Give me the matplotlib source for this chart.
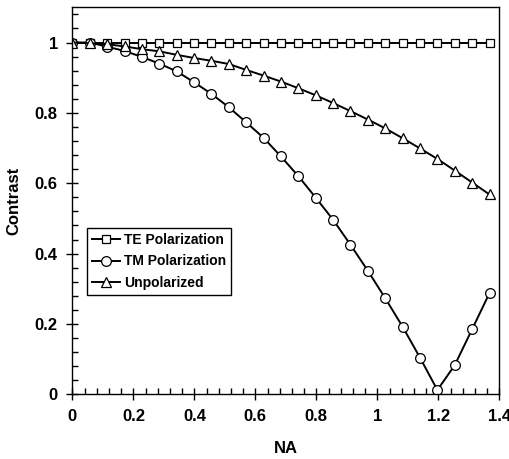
from matplotlib import pyplot as plt
from matplotlib.ticker import MultipleLocator, FormatStrFormatter

na_step = 0.057
na = [i * na_step for i in range(25)]

te_contrast = [1.0] * 25
tm_contrast = [
    1.0, 1.0, 0.988, 0.976, 0.959, 0.940, 0.918, 0.887, 0.854, 0.816, 0.773,
    0.729, 0.676, 0.620, 0.559, 0.496,
    0.425, 0.351, 0.273, 0.192, 0.104, 0.012, 0.083, 0.185, 0.288,
]
unpolarized_contrast = [
    1.0, 0.998, 0.995, 0.989, 0.981, 0.975, 0.965, 0.956, 0.948, 0.939, 0.922,
    0.906, 0.889, 0.870, 0.850, 0.828, 0.805, 0.781, 0.756, 0.728, 0.699,
    0.669, 0.636, 0.602, 0.568,
]

plt.rcParams['font.family'] = ['Liberation Sans', 'DejaVu Sans']
plt.rcParams['font.weight'] = 'bold'

fig = plt.figure(figsize=(5.10, 4.59), dpi=100)
ax = fig.add_axes([0.142, 0.141, 0.837, 0.843])

style = dict(color='black', lw=1.4, markerfacecolor='white', markeredgecolor='black',
             markeredgewidth=0.9)
ax.plot(na, te_contrast, marker='s', markersize=6, label='TE Polarization', **style)
ax.plot(na, tm_contrast, marker='o', markersize=7, label='TM Polarization', **style)
ax.plot(na, unpolarized_contrast, marker='^', markersize=7, label='Unpolarized', **style)

ax.set_xlim(0, 1.4)
ax.set_ylim(0, 1.1)
ax.xaxis.set_major_locator(MultipleLocator(0.2))
ax.xaxis.set_minor_locator(MultipleLocator(0.04))
ax.yaxis.set_major_locator(MultipleLocator(0.2))
ax.yaxis.set_minor_locator(MultipleLocator(0.04))
ax.xaxis.set_major_formatter(FormatStrFormatter('%g'))
ax.yaxis.set_major_formatter(FormatStrFormatter('%g'))
ax.tick_params(which='major', direction='inout', length=9, width=1, labelsize=12, pad=6)
ax.tick_params(which='minor', direction='in', length=4, width=1)
for s in ax.spines.values():
    s.set_linewidth(1)

ax.set_xlabel('NA', fontsize=12, fontweight='bold', labelpad=12)
ax.set_ylabel('Contrast', fontsize=12, fontweight='bold', labelpad=10)

leg = ax.legend(loc='upper left', bbox_to_anchor=(0.034, 0.43), fontsize=10,
                frameon=True, fancybox=False, edgecolor='black', framealpha=1,
                handlelength=2.0, handletextpad=0.3, borderpad=0.35, labelspacing=0.55,
                borderaxespad=0)
leg.get_frame().set_linewidth(1)

fig.savefig('out.png', dpi=100)
